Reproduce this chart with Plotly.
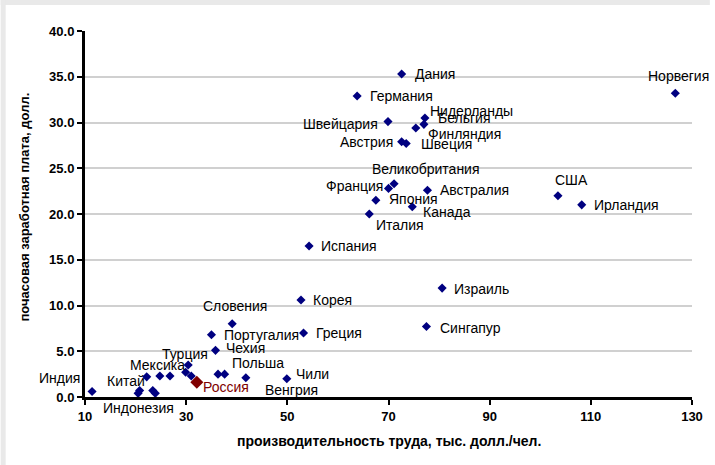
import plotly.graph_objects as go

# ---- data ----
countries = [
    "Индия", None, "Китай", "Индонезия", None, None, "Мексика", None,
    "Турция", None, None, "Россия", "Чехия", None, "Польша", "Венгрия",
    "Чили", "Словения", "Португалия", "Корея", "Греция", "Испания",
    "Израиль", "Сингапур", "Дания", "Германия", "Швейцария", "Нидерланды",
    "Бельгия", "Финляндия", "Австрия", "Швеция", "Великобритания", "Франция",
    "Австралия", "Япония", "Канада", "Италия", "Норвегия", "США", "Ирландия",
]
productivity = [
    11.4, 20.5, 20.8, 23.9, 23.4, 22.2, 24.8, 26.8,
    30.4, 29.9, 31.0, 32.1, 35.8, 36.3, 37.6, 41.8,
    49.9, 39.1, 35.0, 52.7, 53.2, 54.3,
    80.6, 77.5, 72.6, 63.8, 69.9, 77.2,
    77.0, 75.4, 72.6, 73.5, 71.1, 70.0,
    77.7, 67.5, 74.7, 66.2, 126.7, 103.5, 108.2,
]
wage = [
    0.6, 0.4, 0.7, 0.4, 0.7, 2.2, 2.3, 2.3,
    3.5, 2.7, 2.3, 1.6, 5.1, 2.5, 2.5, 2.1,
    2.0, 8.0, 6.8, 10.6, 7.0, 16.5,
    11.9, 7.7, 35.3, 32.9, 30.1, 30.5,
    29.8, 29.4, 27.9, 27.7, 23.3, 22.8,
    22.6, 21.5, 20.8, 20.0, 33.2, 22.0, 21.0,
]
highlight = "Россия"

x_ticks = [10, 30, 50, 70, 90, 110, 130]
y_ticks = [0, 5, 10, 15, 20, 25, 30, 35, 40]
x_title = "производительность труда, тыс. долл./чел."
y_title = "почасовая заработная плата, долл."

# ---- label placement (style, not data): anchor, xshift, yshift in px ----
label_pos = {
    "Индия": ("right", -10, 14), "Китай": ("right", 7, 10),
    "Индонезия": ("center", -17, -15), "Мексика": ("center", -2, 11),
    "Турция": ("center", -3, 11), "Россия": ("left", 4, -5),
    "Чехия": ("left", 8, 2), "Польша": ("left", 5, 11),
    "Венгрия": ("center", 46, -12), "Чили": ("left", 7, 5),
    "Словения": ("center", 3, 18), "Португалия": ("left", 11, 0),
    "Корея": ("left", 10, 0), "Греция": ("left", 10, 0),
    "Испания": ("left", 10, 0), "Израиль": ("left", 10, -1),
    "Сингапур": ("left", 12, -1), "Дания": ("left", 11, 0),
    "Германия": ("left", 11, 0), "Швейцария": ("right", -8, -2),
    "Нидерланды": ("left", 3, 7), "Бельгия": ("left", 12, 6),
    "Финляндия": ("left", 10, -6), "Австрия": ("right", -7, 0),
    "Швеция": ("left", 13, 0), "Великобритания": ("center", 32, 15),
    "Франция": ("right", -4, 2), "Австралия": ("left", 11, 0),
    "Япония": ("left", 11, 1), "Канада": ("left", 9, -5),
    "Италия": ("left", 5, -11), "Норвегия": ("center", 3, 17),
    "США": ("center", 14, 16), "Ирландия": ("left", 10, 0),
}

navy = "#000080"
maroon = "#800000"
font = "Liberation Sans, Arial, sans-serif"

colors = [maroon if c == highlight else navy for c in countries]
sizes = [10 if c == highlight else 7 for c in countries]

fig = go.Figure()
fig.add_trace(go.Scatter(
    x=productivity, y=wage, mode="markers",
    marker=dict(symbol="diamond", size=sizes, color=colors, opacity=1, line=dict(width=0)),
    cliponaxis=False, hoverinfo="skip", showlegend=False,
))

annotations = []
for c, xv, yv in zip(countries, productivity, wage):
    if not c:
        continue
    anchor, dx, dy = label_pos[c]
    annotations.append(dict(
        x=xv, y=yv, xref="x", yref="y", text=c, showarrow=False,
        xanchor=anchor, yanchor="middle", xshift=dx, yshift=dy,
        font=dict(family=font, size=14, color=maroon if c == highlight else "#000000"),
    ))

W, H = 715, 465
L, R, T, B = 85, 18, 31, 68
pw, ph = W - L - R, H - T - B

annotations.append(dict(
    x=0.5, y=-(441 - (H - B)) / ph, xref="paper", yref="paper", text=x_title,
    showarrow=False, xanchor="center", yanchor="middle",
    font=dict(family=font, size=14, color="#000000", weight="bold"),
))
annotations.append(dict(
    x=-(L - 23) / pw, y=1 - (207 - T) / ph, xref="paper", yref="paper", text=y_title,
    showarrow=False, xanchor="center", yanchor="middle", textangle=-90,
    font=dict(family=font, size=13, color="#000000", weight="bold"),
))

gray = "#e9e9e9"
shapes = [
    dict(type="rect", xref="paper", yref="paper", x0=-L / pw, x1=(W - L) / pw,
         y0=1 + (T - 5) / ph, y1=1 + T / ph, fillcolor=gray, line=dict(width=0), layer="below"),
    dict(type="rect", xref="paper", yref="paper", x0=-L / pw, x1=-(L - 5) / pw,
         y0=-B / ph, y1=1 + T / ph, fillcolor=gray, line=dict(width=0), layer="below"),
]

fig.update_layout(
    width=W, height=H, margin=dict(l=L, r=R, t=T, b=B),
    paper_bgcolor="white", plot_bgcolor="white",
    annotations=annotations, shapes=shapes,
    xaxis=dict(
        range=[10, 130], tickvals=x_ticks, ticktext=[str(v) for v in x_ticks],
        showgrid=False, zeroline=False, showline=True, linecolor="black", linewidth=3,
        ticks="outside", ticklen=5, tickwidth=2, tickcolor="black",
        tickfont=dict(family=font, size=13, color="black", weight="bold"),
    ),
    yaxis=dict(
        range=[0, 40], tickvals=y_ticks, ticktext=[f"{v:.1f}" for v in y_ticks],
        showgrid=True, gridcolor="#d0d0d0", gridwidth=1.5, zeroline=False,
        showline=True, linecolor="black", linewidth=3,
        ticks="outside", ticklen=5, tickwidth=2, tickcolor="black",
        tickfont=dict(family=font, size=13, color="black", weight="bold"),
    ),
)

fig.write_html(
    "out.html",
    config={"displayModeBar": False},
    post_script="document.body.style.margin='0';document.body.style.overflow='hidden';",
)
